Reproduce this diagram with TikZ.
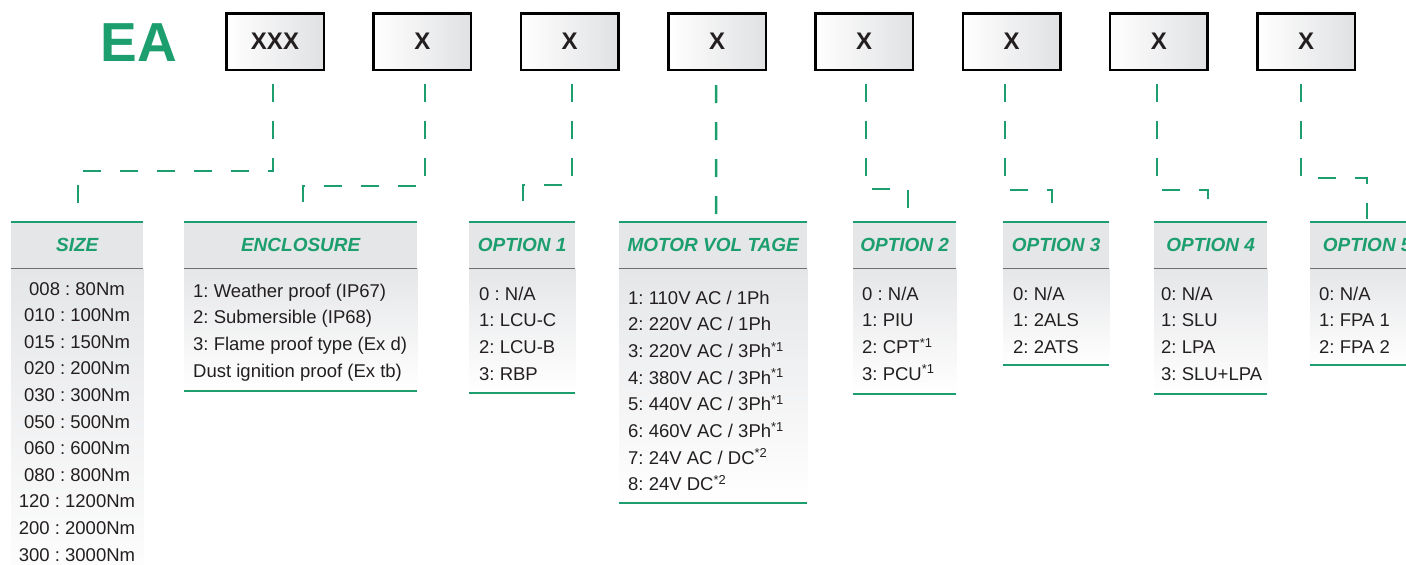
\documentclass[tikz,border=0pt]{standalone}
\usepackage{fontspec}
\setmainfont{Liberation Sans}
\frenchspacing
\definecolor{eagreen}{RGB}{28,158,110}
\definecolor{hdrgray}{RGB}{229,230,232}
\definecolor{sepgray}{RGB}{112,112,114}
\definecolor{txt}{RGB}{35,31,32}
\definecolor{boxgray}{RGB}{224,225,227}
\newcommand\spectable[5]{%
  \node[hdr, minimum width=#3pt] (#1) at (#2,222) {#5};
  \fill[top color=hdrgray, bottom color=white] (#1.south west) rectangle (#1.south east |- 0,#4);
  \draw[seprule] (#1.south west) -- (#1.south east);
  \draw[greenrule] (#1.north west) -- (#1.north east);
}
\begin{document}
\begin{tikzpicture}[x=1pt,y=-1pt,
  codebox/.style={draw=black, line width=2.5pt, left color=white, right color=boxgray,
    minimum width=97.5pt, minimum height=56.5pt, inner sep=0pt,
    font=\fontsize{24}{24}\selectfont\bfseries, text=txt},
  conn/.style={draw=eagreen, line width=2.5pt, dash pattern=on 18pt off 19pt},
  hdr/.style={fill=hdrgray, minimum height=46pt, inner sep=0pt, anchor=north west,
    font=\fontsize{19}{19}\selectfont\bfseries\itshape, text=eagreen},
  greenrule/.style={draw=eagreen, line width=2.3pt},
  seprule/.style={draw=sepgray, line width=1.6pt},
  item/.style={inner sep=0pt, font=\fontsize{18.5}{18.5}\selectfont, text=txt},
]
\useasboundingbox (0,0) rectangle (1406,565);

% code line
\node[font=\fontsize{55}{55}\selectfont\bfseries, text=eagreen, inner sep=0pt] (ea) at (139,43) {EA};
\node[codebox] (b1) at (275,41.5) {XXX};
\node[codebox] (b2) at (422.3,41.5) {X};
\node[codebox] (b3) at (569.6,41.5) {X};
\node[codebox] (b4) at (717,41.5) {X};
\node[codebox] (b5) at (864.2,41.5) {X};
\node[codebox] (b6) at (1011.5,41.5) {X};
\node[codebox] (b7) at (1158.8,41.5) {X};
\node[codebox] (b8) at (1306.1,41.5) {X};

% tables
\spectable{size}{11}{132}{600}{SIZE}
\spectable{encl}{184}{233}{391}{ENCLOSURE}
\draw[greenrule] (encl.south west |- 0,391) -- (encl.south east |- 0,391);
\spectable{opt1}{469}{106}{393}{OPTION 1}
\draw[greenrule] (opt1.south west |- 0,393) -- (opt1.south east |- 0,393);
\spectable{motor}{619}{188}{503}{MOTOR VOL TAGE}
\draw[greenrule] (motor.south west |- 0,503) -- (motor.south east |- 0,503);
\spectable{opt2}{853}{103}{394}{OPTION 2}
\draw[greenrule] (opt2.south west |- 0,394) -- (opt2.south east |- 0,394);
\spectable{opt3}{1003}{106}{365}{OPTION 3}
\draw[greenrule] (opt3.south west |- 0,365) -- (opt3.south east |- 0,365);
\spectable{opt4}{1154}{113}{394}{OPTION 4}
\draw[greenrule] (opt4.south west |- 0,394) -- (opt4.south east |- 0,394);
\spectable{opt5}{1310}{114}{365}{OPTION 5}
\draw[greenrule] (opt5.south west |- 0,365) -- (opt5.south east |- 0,365);

% table items
\foreach \t [count=\i] in {008 : 80Nm, 010 : 100Nm, 015 : 150Nm, 020 : 200Nm, 030 : 300Nm,
  050 : 500Nm, 060 : 600Nm, 080 : 800Nm, 120 : 1200Nm, 200 : 2000Nm, 300 : 3000Nm}
  \node[item, anchor=base] (size\i) at (77,{295+26.6*(\i-1)}) {\t};
\foreach \t [count=\i] in {1: Weather proof (IP67), 2: Submersible (IP68),
  3: Flame proof type (Ex d), Dust ignition proof (Ex tb)}
  \node[item, anchor=base west] (encl\i) at (193,{297+26.7*(\i-1)}) {\t};
\foreach \t [count=\i] in {0 : N/A, 1: LCU-C, 2: LCU-B, 3: RBP}
  \node[item, anchor=base west] (opta\i) at (479,{300+26.7*(\i-1)}) {\t};
\foreach \t [count=\i] in {1: 110V AC / 1Ph, 2: 220V AC / 1Ph,
  3: 220V AC / 3Ph\textsuperscript{*1}, 4: 380V AC / 3Ph\textsuperscript{*1},
  5: 440V AC / 3Ph\textsuperscript{*1}, 6: 460V AC / 3Ph\textsuperscript{*1},
  7: 24V AC / DC\textsuperscript{*2}, 8: 24V DC\textsuperscript{*2}}
  \node[item, anchor=base west] (mot\i) at (628,{304+26.7*(\i-1)}) {\t};
\foreach \t [count=\i] in {0 : N/A, 1: PIU, 2: CPT\textsuperscript{*1}, 3: PCU\textsuperscript{*1}}
  \node[item, anchor=base west] (optb\i) at (862,{300+26.7*(\i-1)}) {\t};
\foreach \t [count=\i] in {0: N/A, 1: 2ALS, 2: 2ATS}
  \node[item, anchor=base west] (optc\i) at (1013,{300+26.7*(\i-1)}) {\t};
\foreach \t [count=\i] in {0: N/A, 1: SLU, 2: LPA, 3: SLU+LPA}
  \node[item, anchor=base west] (optd\i) at (1161,{300+26.7*(\i-1)}) {\t};
\foreach \t [count=\i] in {0: N/A, 1: FPA 1, 2: FPA 2}
  \node[item, anchor=base west] (opte\i) at (1319,{300+26.7*(\i-1)}) {\t};

% connectors
\draw[conn, shorten >=5pt] ([xshift=-2pt]b1.south) ++(0,13) -- ++(0,87) -| ([xshift=1pt]size.north);
\draw[conn, shorten >=20pt] ([xshift=2.7pt]b2.south) ++(0,13) -- ++(0,102) -| ([xshift=2.5pt]encl.north);
\draw[conn, shorten >=21pt] ([xshift=2.4pt]b3.south) ++(0,13) -- ++(0,101) -| ([xshift=1pt]opt1.north);
\draw[conn, shorten >=7pt] ([xshift=-1pt]b4.south) ++(0,14) -- ([xshift=3pt]motor.north);
\draw[conn, shorten >=10pt] ([xshift=1.8pt]b5.south) ++(0,13) -- ++(0,105) -| ([xshift=3.5pt]opt2.north);
\draw[conn, shorten >=18pt] ([xshift=-6.5pt]b6.south) ++(0,13) -- ++(0,106) -| ([xshift=-4pt]opt3.north);
\draw[conn, shorten >=18pt] ([xshift=-1.8pt]b7.south) ++(0,13) -- ++(0,106) -| ([xshift=-2.5pt]opt4.north);
\draw[conn, shorten >=3pt] ([xshift=-5.1pt]b8.south) ++(0,13) -- ++(0,94) -| (opt5.north);
\end{tikzpicture}
\end{document}
